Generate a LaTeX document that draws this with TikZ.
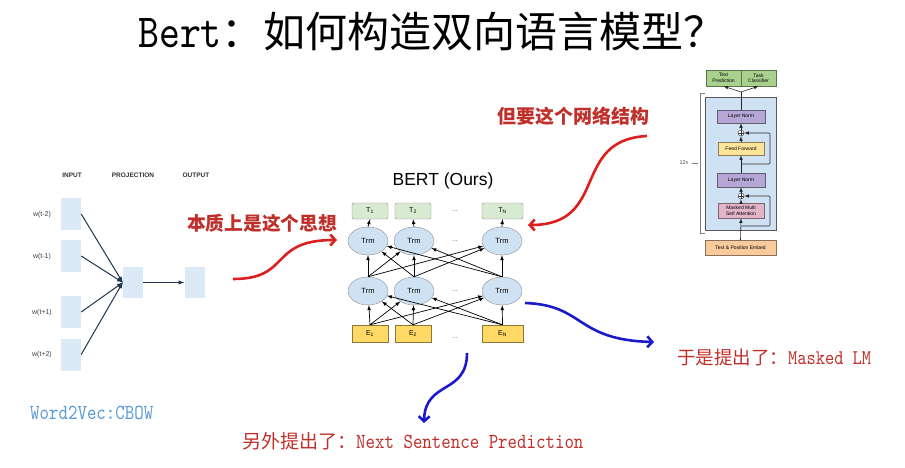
\documentclass[tikz,border=0pt]{standalone}
\usepackage{fontspec}
\setsansfont{Liberation Sans}
\newfontfamily\cjk{Noto Sans CJK SC}
\newfontfamily\simlatin{lmmono10-regular.otf}[FakeStretch=0.84,Scale=1.13]
\usetikzlibrary{arrows.meta,shapes.geometric}
\tikzset{>=latex}
\definecolor{Notecol}{HTML}{C0302B}
\definecolor{Redcol}{HTML}{DD1F1F}
\definecolor{Bluecol}{HTML}{1A1ACC}
\definecolor{Cbowcol}{HTML}{5B9BD5}
\definecolor{Wboxcol}{HTML}{DCEAF8}
\definecolor{Wlinecol}{HTML}{1F3550}
\definecolor{Tcol}{HTML}{D9EAD3}
\definecolor{Trmcol}{HTML}{CFE2F3}
\definecolor{Ecol}{HTML}{FFD966}
\definecolor{Headcol}{HTML}{A9D18E}
\definecolor{Normcol}{HTML}{B4A7D6}
\definecolor{Ffcol}{HTML}{FFE599}
\definecolor{Attcol}{HTML}{E3B5C9}
\definecolor{Embcol}{HTML}{F9CB9C}
\tikzset{
  w2vbox/.style={fill=Wboxcol, minimum width=20pt, minimum height=32pt, inner sep=0pt},
  w2vhead/.style={font=\sffamily\bfseries\fontsize{6.5}{7}\selectfont, text=black!80},
  w2vlabel/.style={font=\sffamily\fontsize{7}{8}\selectfont, text=black!75},
  w2varrow/.style={draw=Wlinecol, line width=1pt, -latex},
  tbox/.style={draw=black!45, fill=Tcol, rounded corners=2pt, minimum width=36pt,
    minimum height=16pt, inner sep=0pt, font=\sffamily\fontsize{7}{8}\selectfont},
  ebox/.style={draw=Ecol!55!black, fill=Ecol, minimum width=36pt,
    minimum height=17pt, inner sep=0pt, font=\sffamily\fontsize{7}{8}\selectfont},
  trm/.style={ellipse, draw=black!45, fill=Trmcol, minimum width=40pt,
    minimum height=28pt, inner sep=0pt, font=\sffamily\fontsize{7.5}{8}\selectfont},
  dotsnode/.style={font=\sffamily\fontsize{7}{8}\selectfont, text=black!60},
  bertarrow/.style={black, line width=0.7pt, -latex},
  tfbox/.style={draw=#1!55!black, fill=#1, minimum width=46pt, minimum height=13pt,
    inner sep=0pt, align=center, font=\sffamily\fontsize{5}{5.5}\selectfont},
  tfarrow/.style={black!85, line width=0.6pt, -latex},
  addnode/.style={circle, draw=black!80, fill=white, minimum size=6pt, inner sep=0pt,
    path picture={\draw (path picture bounding box.north) -- (path picture bounding box.south)
      (path picture bounding box.west) -- (path picture bounding box.east);}},
  note/.style={anchor=base west, inner sep=0pt, text=Notecol},
  notearrow/.style={draw=#1, line width=2.6pt, -{Straight Barb[length=5pt,width=11pt]}},
}

\begin{document}
\begin{tikzpicture}[x=1pt, y=-1pt]
    \def\TW{36pt}  % width of T and E boxes
    \def\TNW{41pt} % width of the last T and E box
    \useasboundingbox (0,0) rectangle (905,468);
    \fill[white] (0,0) rectangle (905,468);

    % title
    \node [anchor=base west, inner sep=0pt] (title) at (138,48)
      {\fontsize{42}{42}\selectfont{\simlatin Bert}\cjk ：如何构造双向语言模型？};

    % word2vec cbow
    \node [w2vhead] (hin) at (72,175) {INPUT};
    \node [w2vhead] (hproj) at (133,175) {PROJECTION};
    \node [w2vhead] (hout) at (196,175) {OUTPUT};
    \node [w2vbox] (in1) at (71,214) {};
    \node [w2vbox] (in2) at (71,256) {};
    \node [w2vbox] (in3) at (71,312) {};
    \node [w2vbox] (in4) at (71,354.5) {};
    \node [w2vbox, minimum height=31pt] (proj) at (133,282.5) {};
    \node [w2vbox, minimum height=31pt] (outp) at (194.5,282.5) {};
    \node [w2vlabel] (w1) at (42,215) {w(t-2)};
    \node [w2vlabel] (w2) at (42,257) {w(t-1)};
    \node [w2vlabel] (w3) at (42,313) {w(t+1)};
    \node [w2vlabel] (w4) at (42,355) {w(t+2)};
    \draw [w2varrow] (in1.east) -- (proj.west);
    \draw [w2varrow] (in2.east) -- (proj.west);
    \draw [w2varrow] (in3.east) -- (proj.west);
    \draw [w2varrow] (in4.east) -- (proj.west);
    \draw [w2varrow] (proj.east) -- (outp.west);
    \node [anchor=base west, inner sep=0pt, text=Cbowcol] (cbow) at (30,419)
      {\fontsize{19}{19}\selectfont\simlatin Word2Vec:CBOW};

    % bert
    \node [font=\sffamily\fontsize{17.5}{18}\selectfont] (berttitle) at (443,181) {BERT (Ours)};
    \node [tbox] (t1) at (370,211) {T\textsubscript{1}};
    \node [tbox] (t2) at (413,211) {T\textsubscript{2}};
    \node [tbox, minimum width=\TNW] (tN) at (502.5,211) {T\textsubscript{N}};
    \node [trm] (a1) at (368,241) {Trm};
    \node [trm] (a2) at (414,241) {Trm};
    \node [trm] (aN) at (502,241) {Trm};
    \node [trm] (b1) at (368,291) {Trm};
    \node [trm] (b2) at (414,291) {Trm};
    \node [trm] (bN) at (502,291) {Trm};
    \node [ebox] (e1) at (370,333.5) {E\textsubscript{1}};
    \node [ebox] (e2) at (413,333.5) {E\textsubscript{2}};
    \node [ebox, minimum width=\TNW] (eN) at (502.5,333.5) {E\textsubscript{N}};
    \node [dotsnode] (d1) at (455,211) {...};
    \node [dotsnode] (d2) at (455,241) {...};
    \node [dotsnode] (d3) at (455,291) {...};
    \node [dotsnode] (d4) at (455,338) {...};

    \draw [bertarrow] (a1.north) -- (t1.south);
    \draw [bertarrow] (a2.north) -- (t2.south);
    \draw [bertarrow] (aN.north) -- (tN.south);
    \draw [bertarrow] (b1.north) -- (a1);
    \draw [bertarrow] (b1.north) -- (a2);
    \draw [bertarrow] (b1.north) -- (aN);
    \draw [bertarrow] (b2.north) -- (a1);
    \draw [bertarrow] (b2.north) -- (a2);
    \draw [bertarrow] (b2.north) -- (aN);
    \draw [bertarrow] (bN.north) -- (a1);
    \draw [bertarrow] (bN.north) -- (a2);
    \draw [bertarrow] (bN.north) -- (aN);
    \draw [bertarrow] (e1.north) -- (b1);
    \draw [bertarrow] (e1.north) -- (b2);
    \draw [bertarrow] (e1.north) -- (bN);
    \draw [bertarrow] (e2.north) -- (b1);
    \draw [bertarrow] (e2.north) -- (b2);
    \draw [bertarrow] (e2.north) -- (bN);
    \draw [bertarrow] (eN.north) -- (b1);
    \draw [bertarrow] (eN.north) -- (b2);
    \draw [bertarrow] (eN.north) -- (bN);

    % transformer block
    \filldraw [fill=Trmcol, draw=black!65, line width=0.6pt] (705,97) rectangle (776,230);
    \draw [black!50, line width=0.5pt] (705,93) -- (700,93) -- (700,233) -- (705,233);
    \draw [black!50, line width=0.5pt] (692,163) -- (698,163);
    \node [font=\sffamily\fontsize{5.5}{6}\selectfont, text=black!70] (rep) at (684,163) {12x};
    \node [tfbox=Headcol, minimum width=35pt, minimum height=16pt] (tp) at (723.5,78) {Text\\Prediction};
    \node [tfbox=Headcol, minimum width=35pt, minimum height=16pt] (tc) at (758.5,78) {Task\\Classifier};
    \node [tfbox=Normcol, minimum width=48pt] (ln2) at (741,116.5) {Layer Norm};
    \node [addnode] (plus2) at (741,133) {};
    \node [tfbox=Ffcol] (ff) at (741,148.5) {Feed Forward};
    \node [tfbox=Normcol, minimum width=48pt, minimum height=14pt] (ln1) at (741,180) {Layer Norm};
    \node [addnode] (plus1) at (741,196) {};
    \node [tfbox=Attcol, minimum height=15pt] (att) at (741,210.5) {Masked Multi\\Self Attention};
    \node [tfbox=Embcol, minimum width=71pt, minimum height=15pt] (emb) at (740.5,247.5) {Text \& Position Embed};
    \coordinate (split) at (741,92);
    \coordinate (res1) at (741,226);
    \coordinate (res2) at (741,164);
    \draw [tfarrow] (emb.north) -- (att.south);
    \draw [tfarrow] (att.north) -- (plus1.south);
    \draw [tfarrow] (plus1.north) -- (ln1.south);
    \draw [tfarrow] (ln1.north) -- (ff.south);
    \draw [tfarrow] (ff.north) -- (plus2.south);
    \draw [tfarrow] (plus2.north) -- (ln2.south);
    \draw [black!85, line width=0.6pt] (ln2.north) -- (split);
    \draw [tfarrow] (split) -- (tp.south);
    \draw [tfarrow] (split) -- (tc.south);
    \draw [tfarrow, rounded corners=1pt] (res1) -- (770,226) -- (770,196) -- (plus1.east);
    \draw [tfarrow, rounded corners=1pt] (res2) -- (770,164) -- (770,133) -- (plus2.east);

    % notes
    \node [note] (idea) at (187,230.5) {\fontsize{18.75}{19}\selectfont\cjk\bfseries 本质上是这个思想};
    \node [note] (struct) at (497,124) {\fontsize{19}{19}\selectfont\cjk\bfseries 但要这个网络结构};
    \node [note] (mlm) at (677,364) {\fontsize{18.5}{19}\selectfont{\cjk 于是提出了：}\simlatin Masked LM};
    \node [note] (nsp) at (242,448) {\fontsize{19}{19}\selectfont{\cjk 另外提出了：}\simlatin Next Sentence Prediction};
    \coordinate (ideafrom) at (233,279);
    \coordinate (ideato) at (337,240);
    \coordinate (structfrom) at (647,136);
    \coordinate (structto) at (528,225);
    \coordinate (mlmfrom) at (525,303);
    \coordinate (mlmto) at (654,342);
    \coordinate (nspfrom) at (467,353);
    \coordinate (nspto) at (424,423);
    \draw [notearrow=Redcol] (ideafrom) .. controls (292,279) and (268,240) .. (ideato);
    \draw [notearrow=Redcol] (structfrom) .. controls (570,140) and (610,225) .. (structto);
    \draw [notearrow=Bluecol] (mlmfrom) .. controls (585,305) and (575,340) .. (mlmto);
    \draw [notearrow=Bluecol] (nspfrom) .. controls (467,395) and (425,380) .. (nspto);
\end{tikzpicture}
\end{document}
